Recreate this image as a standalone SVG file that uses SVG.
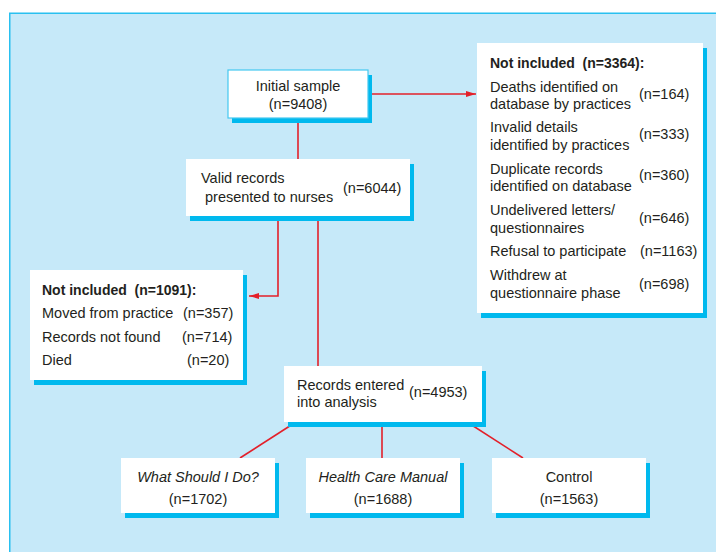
<svg xmlns="http://www.w3.org/2000/svg" width="716" height="552" viewBox="0 0 716 552">
<defs>
<style>
.t{font-family:"Liberation Sans",Arial,sans-serif;font-size:14.5px;fill:#231f20}
.b{font-weight:bold;font-size:14px}
.i{font-style:italic}
.box{fill:#ffffff}
.sh{fill:#00b9ee}
.ln{stroke:#e3202a;stroke-width:1.6;fill:none}
</style>
<marker id="ah" markerWidth="10" markerHeight="6" refX="10" refY="3" orient="auto" markerUnits="userSpaceOnUse">
<path d="M0,0 L10,3 L0,6 Z" fill="#e3202a"/>
</marker>
</defs>
<rect x="0" y="0" width="716" height="552" fill="#ffffff"/>
<rect x="9.75" y="13.25" width="720" height="560" fill="#c6e9f9" stroke="#29c0f0" stroke-width="1.5"/>

<g id="connectors">
<line class="ln" x1="372" y1="94" x2="476" y2="94" marker-end="url(#ah)"/>
<line class="ln" x1="298" y1="123" x2="298" y2="159"/>
<path class="ln" d="M278,221 V296 H249" marker-end="url(#ah)"/>
<line class="ln" x1="318" y1="221" x2="318" y2="366"/>
<line class="ln" x1="296" y1="422" x2="240" y2="458"/>
<line class="ln" x1="382" y1="427" x2="382" y2="458"/>
<line class="ln" x1="467" y1="422" x2="523" y2="458"/>
</g>

<g id="initial">
<rect class="sh" x="232" y="75" width="140" height="48"/>
<rect class="box" x="228" y="70" width="140" height="48" stroke="#45c8f0" stroke-width="1.2"/>
<text class="t" x="298" y="91" text-anchor="middle">Initial sample</text>
<text class="t" x="298" y="109" text-anchor="middle">(n=9408)</text>
</g>

<g id="valid">
<rect class="sh" x="190" y="164" width="224" height="57"/>
<rect class="box" x="186" y="159" width="224" height="57"/>
<text class="t" x="201" y="183">Valid records</text>
<text class="t" x="205" y="202">presented to nurses</text>
<text class="t" x="343" y="193">(n=6044)</text>
</g>

<g id="excluded-right">
<rect class="sh" x="481" y="48" width="226" height="270"/>
<rect class="box" x="477" y="43" width="226" height="270"/>
<text class="t b" x="490" y="68" xml:space="preserve">Not included  (n=3364):</text>
<text class="t" x="490" y="92">Deaths identified on</text>
<text class="t" x="490" y="108.5">database by practices</text>
<text class="t" x="639" y="98.5">(n=164)</text>
<text class="t" x="490" y="132">Invalid details</text>
<text class="t" x="490" y="149.5">identified by practices</text>
<text class="t" x="639" y="138.5">(n=333)</text>
<text class="t" x="490" y="173.5">Duplicate records</text>
<text class="t" x="490" y="191">identified on database</text>
<text class="t" x="639" y="180">(n=360)</text>
<text class="t" x="490" y="215">Undelivered letters/</text>
<text class="t" x="490" y="233">questionnaires</text>
<text class="t" x="639" y="223">(n=646)</text>
<text class="t" x="490" y="256">Refusal to participate</text>
<text class="t" x="640" y="256">(n=1163)</text>
<text class="t" x="490" y="280">Withdrew at</text>
<text class="t" x="490" y="297.5">questionnaire phase</text>
<text class="t" x="639" y="288.5">(n=698)</text>
</g>

<g id="excluded-left">
<rect class="sh" x="34" y="275" width="213" height="110"/>
<rect class="box" x="30" y="270" width="213" height="110"/>
<text class="t b" x="42" y="295" xml:space="preserve">Not included  (n=1091):</text>
<text class="t" x="42" y="318">Moved from practice</text>
<text class="t" x="183" y="318">(n=357)</text>
<text class="t" x="42" y="342">Records not found</text>
<text class="t" x="182" y="342">(n=714)</text>
<text class="t" x="42" y="365">Died</text>
<text class="t" x="187" y="365">(n=20)</text>
</g>

<g id="analysis">
<rect class="sh" x="288" y="371" width="198" height="56"/>
<rect class="box" x="284" y="366" width="198" height="56"/>
<text class="t" x="297" y="390">Records entered</text>
<text class="t" x="297" y="407">into analysis</text>
<text class="t" x="409" y="397">(n=4953)</text>
</g>

<g id="wsid">
<rect class="sh" x="125" y="463" width="154" height="55"/>
<rect class="box" x="121" y="458" width="154" height="55"/>
<text class="t i" x="198" y="482" text-anchor="middle">What Should I Do?</text>
<text class="t" x="198" y="504" text-anchor="middle">(n=1702)</text>
</g>

<g id="hcm">
<rect class="sh" x="310" y="463" width="154" height="55"/>
<rect class="box" x="306" y="458" width="154" height="55"/>
<text class="t i" x="383" y="482" text-anchor="middle">Health Care Manual</text>
<text class="t" x="383" y="504" text-anchor="middle">(n=1688)</text>
</g>

<g id="control">
<rect class="sh" x="496" y="463" width="154" height="55"/>
<rect class="box" x="492" y="458" width="154" height="55"/>
<text class="t" x="569" y="482" text-anchor="middle">Control</text>
<text class="t" x="569" y="504" text-anchor="middle">(n=1563)</text>
</g>
</svg>
